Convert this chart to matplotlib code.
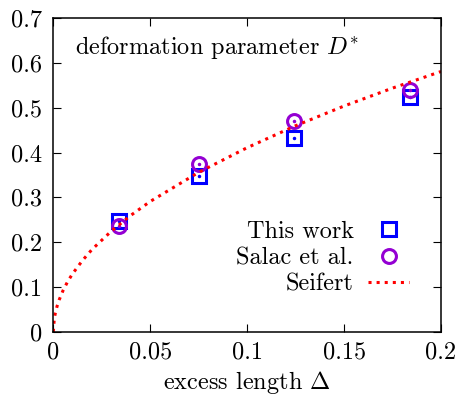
import numpy as np
import matplotlib
matplotlib.use('Agg')
import matplotlib.pyplot as plt

# data
delta_this = [0.034, 0.075, 0.124, 0.184]
d_this = [0.248, 0.348, 0.433, 0.525]

delta_salac = [0.034, 0.075, 0.124, 0.184]
d_salac = [0.237, 0.375, 0.470, 0.540]

delta_seifert = [0.0, 0.0005, 0.001, 0.002, 0.003, 0.005, 0.0075, 0.01, 0.015, 0.02, 0.03, 0.04,
                 0.05, 0.075, 0.1, 0.125, 0.15, 0.175, 0.2]
d_seifert = [0.0, 0.029, 0.041, 0.058, 0.071, 0.092, 0.113, 0.130, 0.159, 0.184, 0.225, 0.260,
             0.291, 0.356, 0.411, 0.460, 0.504, 0.544, 0.581]

plt.rcParams['font.family'] = 'cmr10'
plt.rcParams['mathtext.fontset'] = 'cm'
plt.rcParams['axes.formatter.use_mathtext'] = True

fs = 17.5

fig = plt.figure(figsize=(4.58, 3.99), dpi=100)
ax = fig.add_axes([0.1164, 0.1684, 0.8465, 0.786])

ax.plot(delta_this, d_this, 's', ms=10, mfc='none', mec='#0000ff', mew=2.2, label='This work')
ax.plot(delta_this, d_this, '.', ms=3, color='#0000ff')
ax.plot(delta_salac, d_salac, 'o', ms=10, mfc='none', mec='#9400d3', mew=2.2, label='Salac et al.')
ax.plot(delta_salac, d_salac, '.', ms=3, color='#9400d3')
ax.plot(delta_seifert, d_seifert, ':', color='red', lw=2.2, label='Seifert')

ax.set_xlim(0, 0.2)
ax.set_ylim(0, 0.7)
ax.set_xticks([0, 0.05, 0.1, 0.15, 0.2])
ax.set_xticklabels(['0', '0.05', '0.1', '0.15', '0.2'])
ax.set_yticks([0, 0.1, 0.2, 0.3, 0.4, 0.5, 0.6, 0.7])
ax.set_yticklabels(['0', '0.1', '0.2', '0.3', '0.4', '0.5', '0.6', '0.7'])
ax.tick_params(direction='in', top=True, right=True, length=6, labelsize=fs, pad=8)
ax.tick_params(axis='x', pad=7)
for s in ax.spines.values():
    s.set_linewidth(1.1)

ax.set_xlabel(r'excess length $\Delta$', fontsize=fs, labelpad=4)
ax.text(0.056, 0.885, r'deformation parameter $D^{*}$', transform=ax.transAxes, fontsize=fs)

leg = ax.legend(loc='lower right', bbox_to_anchor=(0.975, 0.045), markerfirst=False, frameon=False,
                fontsize=fs, handlelength=1.7, labelspacing=0.18, handletextpad=0.6)
for t in leg.get_texts():
    t.set_ha('right')

fig.savefig('out.png', dpi=100)
